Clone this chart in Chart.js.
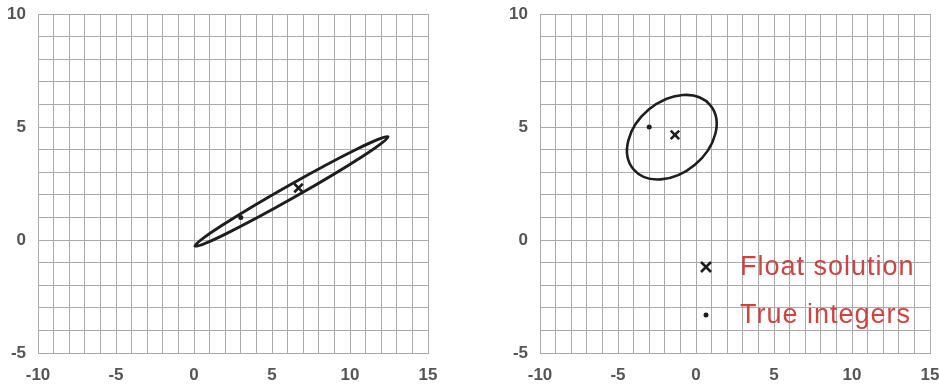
<!DOCTYPE html>
<html>
<head>
<meta charset="utf-8">
<script src="https://cdn.jsdelivr.net/npm/chart.js@4.4.1/dist/chart.umd.min.js"></script>
<style>
  html, body { margin: 0; padding: 0; background: #fff; }
  #wrap { position: relative; width: 939px; height: 385px; }
  canvas { position: absolute; top: 0; }
</style>
</head>
<body>
<div id="wrap">
  <canvas id="leftChart" width="470" height="385" style="left:0"></canvas>
  <canvas id="rightChart" width="469" height="385" style="left:470px"></canvas>
</div>
<script>
// axis ranges, labelled every 5 units, grid every unit
const xRange = [-10, 15];
const yRange = [-5, 10];
const labelStep = 5;

// left panel: long thin ellipse (center, two conjugate half-axes)
const leftFloat = [6.7, 2.3];
const leftInteger = [3, 1];
const leftCenter = [6.25, 2.15];
const leftAxisA = [6.19, 2.42];
const leftAxisB = [-0.2, 0.25];

// right panel: rounder ellipse
const rightFloat = [-1.35, 4.65];
const rightInteger = [-3, 5];
const rightCenter = [-1.55, 4.55];
const rightAxisA = [2.46, 1.42];
const rightAxisB = [-1.48, 1.22];

const legendLabels = ['Float solution', 'True integers'];

const gridColor = '#aaaaaa';
const tickFont = { family: 'Liberation Sans, Arial, sans-serif', size: 17, weight: 'bold' };
const tickColor = '#555555';
const inkColor = '#1e1e1e';

// strokes an ellipse given in data units, mapped through the chart scales
const ellipsePlugin = {
  id: 'ellipse',
  beforeDatasetsDraw(chart, args, opts) {
    const xs = chart.scales.x, ys = chart.scales.y;
    const c = opts.center, a = opts.axisA, b = opts.axisB;
    const cx = xs.getPixelForValue(c[0]), cy = ys.getPixelForValue(c[1]);
    const ax = xs.getPixelForValue(c[0] + a[0]) - cx;
    const ay = ys.getPixelForValue(c[1] + a[1]) - cy;
    const bx = xs.getPixelForValue(c[0] + b[0]) - cx;
    const by = ys.getPixelForValue(c[1] + b[1]) - cy;
    const ctx = chart.ctx;
    ctx.save();
    ctx.save();
    ctx.beginPath();
    ctx.transform(ax, ay, bx, by, cx, cy);
    ctx.arc(0, 0, 1, 0, Math.PI * 2);
    ctx.restore();
    ctx.lineWidth = opts.lineWidth;
    ctx.strokeStyle = inkColor;
    ctx.stroke();
    ctx.restore();
  }
};

// legend drawn inside the plot area of the right panel
const innerLegend = {
  id: 'innerLegend',
  afterDraw(chart, args, opts) {
    if (!opts.show) return;
    const ctx = chart.ctx, area = chart.chartArea;
    const mx = area.left + 166, tx = area.left + 200;
    const rows = [area.top + 253, area.top + 301];
    ctx.save();
    // cross marker
    ctx.strokeStyle = inkColor;
    ctx.lineWidth = 2.6;
    const s = 5;
    ctx.beginPath();
    ctx.moveTo(mx - s, rows[0] - s); ctx.lineTo(mx + s, rows[0] + s);
    ctx.moveTo(mx + s, rows[0] - s); ctx.lineTo(mx - s, rows[0] + s);
    ctx.stroke();
    // dot marker
    ctx.fillStyle = inkColor;
    ctx.beginPath();
    ctx.arc(mx, rows[1], 2.5, 0, Math.PI * 2);
    ctx.fill();
    // labels
    ctx.fillStyle = '#cc4444';
    ctx.font = '27px "Liberation Sans", Arial, sans-serif';
    ctx.letterSpacing = '1px';
    ctx.textBaseline = 'middle';
    ctx.textAlign = 'left';
    legendLabels.forEach((t, i) => ctx.fillText(t, tx, rows[i] + 1));
    ctx.restore();
  }
};

// fixed axis thickness, and no extra room reserved for edge labels
function fixedFit(prop, size) {
  return s => {
    s[prop] = size;
    s.paddingLeft = s.paddingRight = s.paddingTop = s.paddingBottom = 0;
  };
}

function axisOptions(range, fit) {
  return {
    type: 'linear',
    min: range[0],
    max: range[1],
    ticks: {
      stepSize: 1,
      autoSkip: false,
      maxRotation: 0,
      minRotation: 0,
      color: tickColor,
      font: tickFont,
      padding: 12,
      callback: v => (v % labelStep === 0 ? String(v) : '')
    },
    grid: { color: gridColor, lineWidth: 1, drawTicks: false },
    border: { color: gridColor, width: 1 },
    afterFit: fit
  };
}

function makePanel(id, floatPt, intPt, center, axisA, axisB, yWidth, padRight, ellipseWidth, showLegend) {
  return new Chart(document.getElementById(id), {
    type: 'scatter',
    data: {
      datasets: [
        {
          data: [{ x: floatPt[0], y: floatPt[1] }],
          pointStyle: 'crossRot',
          radius: 6,
          borderWidth: 2.6,
          borderColor: inkColor
        },
        {
          data: [{ x: intPt[0], y: intPt[1] }],
          pointStyle: 'circle',
          radius: 2.5,
          borderWidth: 0,
          backgroundColor: inkColor
        }
      ]
    },
    options: {
      responsive: false,
      devicePixelRatio: 1,
      animation: false,
      layout: { padding: { top: 14, right: padRight, left: 0, bottom: 0 } },
      scales: {
        x: axisOptions(xRange, fixedFit('height', 32)),
        y: axisOptions(yRange, fixedFit('width', yWidth))
      },
      plugins: {
        legend: { display: false },
        tooltip: { enabled: false },
        ellipse: { center, axisA, axisB, lineWidth: ellipseWidth },
        innerLegend: { show: showLegend }
      }
    },
    plugins: [ellipsePlugin, innerLegend]
  });
}

makePanel('leftChart', leftFloat, leftInteger, leftCenter, leftAxisA, leftAxisB, 38, 42, 3, false);
makePanel('rightChart', rightFloat, rightInteger, rightCenter, rightAxisA, rightAxisB, 70, 9, 2.6, true);
</script>
</body>
</html>
